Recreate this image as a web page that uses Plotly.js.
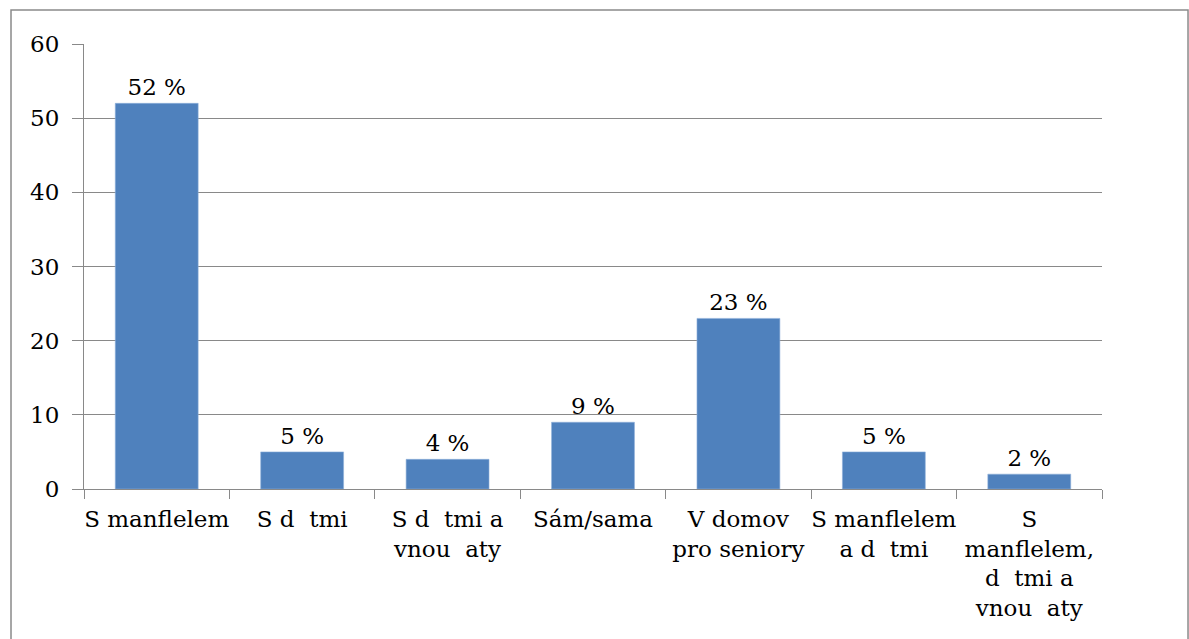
<!DOCTYPE html>
<html>
<head>
<meta charset="utf-8">
<script src="https://cdn.plot.ly/plotly-3.0.1.min.js"></script>
<style>
html,body{margin:0;padding:0;background:#fff;}
#chart{width:1189px;height:639px;}
</style>
</head>
<body>
<div id="chart"></div>
<script>
const categories = [
  "S manflelem",
  "S d\u00a0\u00a0tmi",
  "S d\u00a0\u00a0tmi a<br>vnou\u00a0\u00a0aty",
  "Sám/sama",
  "V domov<br>pro seniory",
  "S manflelem<br>a d\u00a0\u00a0tmi",
  "S<br>manflelem,<br>d\u00a0\u00a0tmi a<br>vnou\u00a0\u00a0aty"
];
const values = [52, 5, 4, 9, 23, 5, 2];
const valueLabels = values.map(v => v + " %");
const yTicks = [0, 10, 20, 30, 40, 50, 60];

const fontFam = "DejaVu Serif, serif";
const grey = "#898989";

const trace = {
  type: "bar",
  x: categories,
  y: values,
  text: valueLabels,
  textposition: "outside",
  cliponaxis: false,
  textfont: {family: fontFam, size: 23, color: "#000"},
  marker: {color: "#4F81BD", line: {color: "#8FB0DA", width: 0.6}},
  hoverinfo: "x+y"
};

const layout = {
  width: 1189,
  height: 639,
  margin: {l: 84, r: 87, t: 44, b: 150},
  paper_bgcolor: "#fff",
  plot_bgcolor: "#fff",
  showlegend: false,
  bargap: 0.43,
  font: {family: fontFam, size: 23, color: "#000"},
  xaxis: {
    type: "category",
    tickson: "boundaries",
    ticks: "outside",
    ticklen: 9,
    tickcolor: grey,
    tickwidth: 1,
    tickangle: 0,
    ticklabelstandoff: 9,
    showline: true,
    linecolor: grey,
    linewidth: 1,
    showgrid: false,
    tickfont: {family: fontFam, size: 23, color: "#000"},
    automargin: false
  },
  yaxis: {
    range: [0, 60],
    tickvals: yTicks,
    ticktext: yTicks.map(String),
    ticks: "outside",
    ticklen: 11,
    tickcolor: grey,
    tickwidth: 1,
    ticklabelstandoff: 8,
    showline: true,
    linecolor: grey,
    linewidth: 1,
    showgrid: true,
    gridcolor: grey,
    gridwidth: 1,
    zeroline: false,
    tickfont: {family: fontFam, size: 23, color: "#000"},
    automargin: false
  },
  shapes: [{
    type: "rect",
    xref: "paper", yref: "paper",
    x0: -0.0717, x1: 1.0845,
    y0: -0.4, y1: 1.0764,
    line: {color: "#8a8a8a", width: 1.5},
    fillcolor: "rgba(0,0,0,0)",
    layer: "below"
  }]
};

Plotly.newPlot("chart", [trace], layout, {displayModeBar: false, staticPlot: true});
</script>
</body>
</html>
